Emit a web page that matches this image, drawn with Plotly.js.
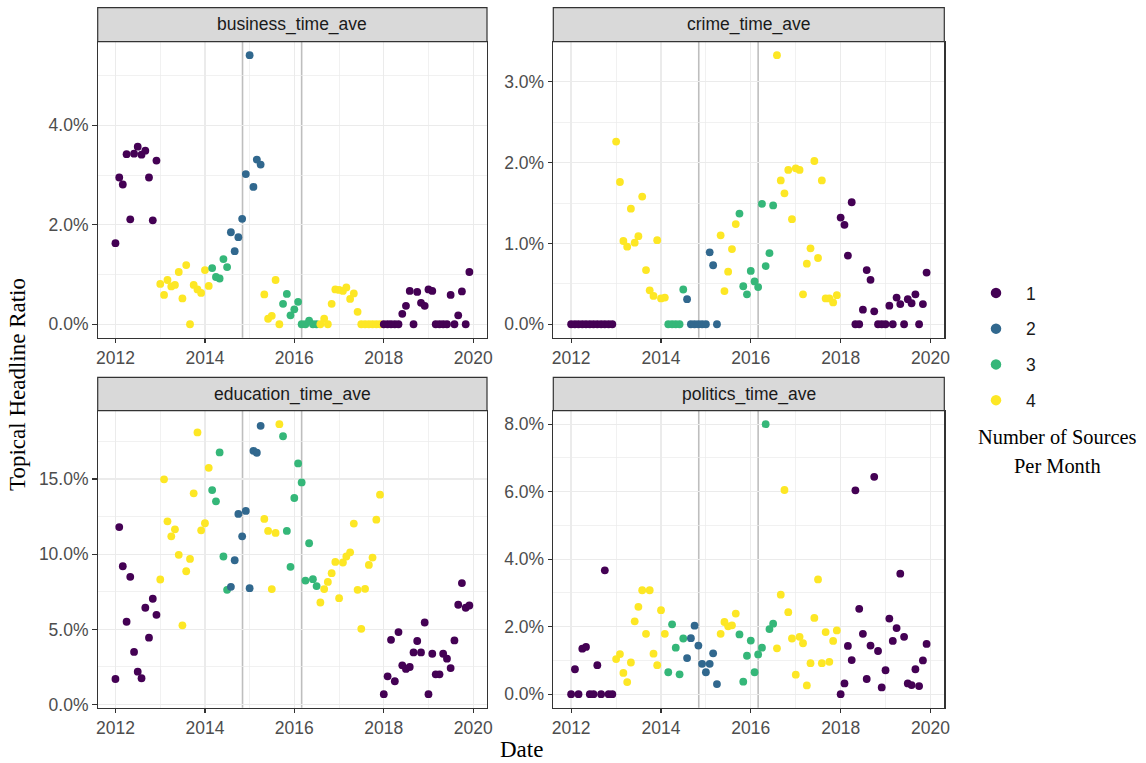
<!DOCTYPE html>
<html>
<head>
<meta charset="utf-8">
<script src="https://cdn.plot.ly/plotly-3.0.1.min.js"></script>
<style>
  html, body { margin: 0; padding: 0; background: #ffffff; }
  #chart { width: 1146px; height: 763px; }
</style>
</head>
<body>
<div id="chart"></div>
<script>
// ---- data -------------------------------------------------------------
// Monthly observations, January 2012 through December 2019
const months = [];
for (let yr = 2012; yr <= 2019; yr++) {
  for (let mo = 1; mo <= 12; mo++) {
    months.push(yr + '-' + String(mo).padStart(2, '0') + '-01');
  }
}

// Number of sources available in each month
const sources = [
  1,1,1,1,1,1,1,1,1,1,1,1,
  4,4,4,4,4,4,4,4,4,4,4,4,
  4,4,3,3,3,3,3,2,2,2,2,2,
  2,2,2,2,4,4,4,4,4,3,3,3,
  3,3,3,3,3,3,3,4,4,4,4,4,
  4,4,4,4,4,4,4,4,4,4,4,4,
  1,1,1,1,1,1,1,1,1,1,1,1,
  1,1,1,1,1,1,1,1,1,1,1,1
];

// Topical headline ratios, in percent
const business = [
  1.63,2.95,2.81,3.42,2.11,3.43,3.57,3.41,3.49,2.95,2.09,3.29,
  0.81,0.59,0.89,0.76,0.79,1.05,0.52,1.19,0.00,0.79,0.70,0.63,
  1.09,0.77,1.13,0.95,0.92,1.31,1.15,1.85,1.47,1.75,2.12,3.02,
  5.41,2.76,3.31,3.21,0.60,0.11,0.17,0.89,0.00,0.41,0.61,0.18,
  0.30,0.45,0.00,0.00,0.07,0.00,0.00,0.00,0.11,0.00,0.41,0.70,
  0.69,0.67,0.74,0.51,0.62,0.25,0.00,0.00,0.00,0.00,0.00,0.00,
  0.00,0.00,0.00,0.00,0.00,0.21,0.37,0.67,0.00,0.65,0.43,0.37,
  0.70,0.67,0.00,0.00,0.00,0.00,0.59,0.00,0.18,0.66,0.00,1.05
];

const crime = [
  0,0,0,0,0,0,0,0,0,0,0,0,
  2.26,1.76,1.03,0.96,1.43,1.01,1.09,1.58,0.67,0.42,0.35,1.04,
  0.32,0.33,0.00,0.00,0.00,0.00,0.43,0.31,0.00,0.00,0.00,0.00,
  0.00,0.89,0.73,0.00,1.10,0.41,0.65,0.93,1.24,1.37,0.47,0.37,
  0.66,0.53,0.46,1.49,0.72,0.88,1.47,3.33,1.78,1.62,1.91,1.30,
  1.93,1.91,0.37,0.75,0.94,2.02,0.82,1.78,0.32,0.32,0.27,0.36,
  1.32,1.23,0.85,1.51,0.00,0.00,0.18,0.67,0.55,0.16,0.00,0.00,
  0.00,0.23,0.00,0.33,0.25,0.00,0.31,0.26,0.37,0.00,0.25,0.64
];

const education = [
  1.70,11.81,9.20,5.51,8.50,3.50,2.19,1.75,6.44,4.45,7.04,5.97,
  8.32,14.98,12.19,11.19,11.66,9.96,5.27,8.87,9.69,14.05,18.10,11.59,
  12.06,15.75,14.27,13.52,16.77,9.85,7.63,7.83,9.60,12.68,11.19,12.88,
  7.74,16.88,16.75,18.54,12.35,11.55,7.68,11.42,18.65,17.85,11.55,9.16,
  13.74,16.04,14.78,8.25,10.73,8.34,7.88,6.79,7.68,8.16,8.74,9.49,
  7.08,9.45,9.85,10.13,12.04,7.63,5.04,7.70,9.29,9.78,12.30,13.96,
  0.69,1.88,4.31,1.55,4.82,2.61,2.37,2.50,3.47,4.23,3.47,5.46,
  0.69,3.38,2.01,2.01,3.38,3.05,2.43,4.27,6.64,8.08,6.44,6.59
];

const politics = [
  0.00,0.74,0.00,1.35,1.40,0.00,0.00,0.86,0.00,3.67,0.00,0.00,
  1.04,1.19,0.63,0.36,0.94,2.16,2.59,3.08,1.79,3.08,1.20,0.86,
  2.49,1.79,0.65,2.07,1.38,0.59,1.65,1.07,1.66,2.03,1.44,0.90,
  0.65,0.90,1.21,0.30,1.79,2.14,2.01,2.04,2.39,1.77,0.37,1.14,
  1.59,0.65,1.18,1.38,8.00,1.93,2.09,1.36,2.95,6.05,2.43,1.65,
  0.58,1.70,1.51,0.26,0.92,2.26,3.40,0.92,1.84,0.96,1.58,1.89,
  0.00,0.32,1.43,1.01,6.04,2.53,1.79,0.45,1.44,6.44,1.28,0.20,
  0.71,2.24,1.58,1.96,3.57,1.70,0.32,0.27,0.74,0.24,1.00,1.49
];

const sourceLevels = [1, 2, 3, 4];
const facetNames = ['business_time_ave', 'crime_time_ave', 'education_time_ave', 'politics_time_ave'];
const facetValues = [business, crime, education, politics];
const referenceDates = ['2014-11-04', '2016-03-01'];

// ---- styling ----------------------------------------------------------
const W = 1146, H = 763;
const px = p => p / W;          // pixel -> paper x
const py = p => 1 - p / H;      // pixel -> paper y

const viridis = { 1: '#440154', 2: '#31688E', 3: '#35B779', 4: '#FDE725' };
const SANS = '"Liberation Sans", Arial, Helvetica, sans-serif';
const SERIF = '"Liberation Serif", "Times New Roman", Times, serif';

const colBounds = [[97.7, 487.0], [553.3, 944.3]];
const rowBounds = [[41.7, 337.7], [410.7, 707.7]];
const stripBounds = [[7.7, 41.7], [377.3, 410.7]];
const yStep = [0.02, 0.01, 0.05, 0.02];

// x range: data extent padded by 5% on each side
const t0 = Date.parse(months[0]), t1 = Date.parse(months[months.length - 1]);
const tpad = (t1 - t0) * 0.05;
const iso = t => new Date(t).toISOString().slice(0, 10);
const xRange = [iso(t0 - tpad), iso(t1 + tpad)];

const traces = [];
const layout = {
  width: W, height: H,
  margin: { l: 0, r: 0, t: 0, b: 0 },
  paper_bgcolor: '#ffffff',
  plot_bgcolor: '#ffffff',
  showlegend: true,
  hovermode: false,
  legend: {
    x: px(966), y: py(275), xanchor: 'left', yanchor: 'top',
    font: { family: SANS, size: 17.5, color: '#1A1A1A' },
    itemwidth: 50, tracegroupgap: 10,
    bgcolor: 'rgba(0,0,0,0)', borderwidth: 0
  },
  shapes: [],
  annotations: []
};

facetNames.forEach((name, i) => {
  const n = i + 1;
  const xa = n === 1 ? 'xaxis' : 'xaxis' + n;
  const ya = n === 1 ? 'yaxis' : 'yaxis' + n;
  const xr = n === 1 ? 'x' : 'x' + n;
  const yr = n === 1 ? 'y' : 'y' + n;
  const col = i % 2, row = Math.floor(i / 2);
  const vals = facetValues[i].map(v => v / 100);

  const lo = Math.min(...vals), hi = Math.max(...vals);
  const ypad = (hi - lo) * 0.05;

  traces.push({
    type: 'scatter', mode: 'markers',
    x: months, y: vals,
    xaxis: xr, yaxis: yr,
    marker: { size: 7.8, color: sources.map(s => viridis[s]), line: { width: 0 } },
    showlegend: false, hoverinfo: 'skip'
  });

  const gridCommon = {
    showgrid: true, gridcolor: '#EBEBEB', gridwidth: 1.3,
    zeroline: false,
    showline: true, mirror: true, linecolor: '#333333', linewidth: 1.2,
    ticks: 'outside', ticklen: 4.5, tickwidth: 1.2, tickcolor: '#333333',
    tickfont: { family: SANS, size: 17.5, color: '#4D4D4D' },
    fixedrange: true
  };

  layout[xa] = Object.assign({}, gridCommon, {
    type: 'date',
    domain: [px(colBounds[col][0]), px(colBounds[col][1])],
    anchor: yr,
    range: xRange,
    tick0: '2012-01-01', dtick: 'M24', tickformat: '%Y',
    minor: { dtick: 'M12', tick0: '2013-01-01', showgrid: true, gridcolor: '#EBEBEB', gridwidth: 0.7 }
  });

  layout[ya] = Object.assign({}, gridCommon, {
    domain: [py(rowBounds[row][1]), py(rowBounds[row][0])],
    anchor: xr,
    range: [lo - ypad, hi + ypad],
    tick0: 0, dtick: yStep[i], tickformat: '.1%',
    minor: { dtick: yStep[i] / 2, tick0: 0, showgrid: true, gridcolor: '#EBEBEB', gridwidth: 0.7 }
  });

  // facet strip
  layout.shapes.push({
    type: 'rect', xref: 'paper', yref: 'paper', layer: 'above',
    x0: px(colBounds[col][0]), x1: px(colBounds[col][1]),
    y0: py(stripBounds[row][1]), y1: py(stripBounds[row][0]),
    fillcolor: '#D9D9D9', line: { color: '#333333', width: 1.2 }
  });
  layout.annotations.push({
    xref: 'paper', yref: 'paper',
    x: px((colBounds[col][0] + colBounds[col][1]) / 2),
    y: py((stripBounds[row][0] + stripBounds[row][1]) / 2),
    xanchor: 'center', yanchor: 'middle', showarrow: false,
    text: name, font: { family: SANS, size: 17.5, color: '#1A1A1A' }
  });

  // reference dates
  referenceDates.forEach(d => {
    layout.shapes.push({
      type: 'line', layer: 'below',
      xref: xr, yref: yr + ' domain',
      x0: d, x1: d, y0: 0, y1: 1,
      line: { color: '#BEBEBE', width: 1.6 }
    });
  });
});

// legend entries for the source counts
sourceLevels.forEach(s => {
  traces.push({
    type: 'scatter', mode: 'markers',
    x: [null], y: [null], xaxis: 'x', yaxis: 'y',
    name: String(s), legendgroup: 'src' + s,
    marker: { size: 10.5, color: viridis[s] },
    showlegend: true, hoverinfo: 'skip'
  });
});

// shared axis titles and legend title
layout.annotations.push(
  { xref: 'paper', yref: 'paper', x: px(521), y: py(749), xanchor: 'center', yanchor: 'middle',
    showarrow: false, text: 'Date', font: { family: SERIF, size: 23, color: '#000000' } },
  { xref: 'paper', yref: 'paper', x: px(17), y: py(385), xanchor: 'center', yanchor: 'middle',
    showarrow: false, textangle: -90, text: 'Topical Headline Ratio',
    font: { family: SERIF, size: 23, color: '#000000' } },
  { xref: 'paper', yref: 'paper', x: px(1057.5), y: py(437), xanchor: 'center', yanchor: 'middle',
    showarrow: false, text: 'Number of Sources', font: { family: SERIF, size: 20.4, color: '#000000' } },
  { xref: 'paper', yref: 'paper', x: px(1057.5), y: py(466), xanchor: 'center', yanchor: 'middle',
    showarrow: false, text: 'Per Month', font: { family: SERIF, size: 20.4, color: '#000000' } }
);

Plotly.newPlot('chart', traces, layout, { staticPlot: true, displayModeBar: false });
</script>
</body>
</html>
